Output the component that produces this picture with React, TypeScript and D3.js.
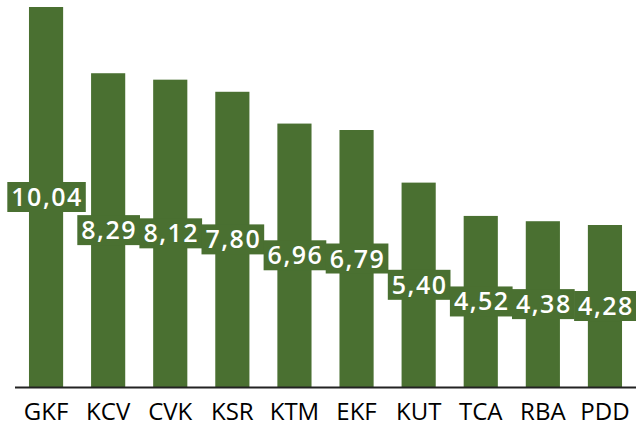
import * as d3 from "d3";
import { useEffect, useRef } from "react";

const categories = ["GKF", "KCV", "CVK", "KSR", "KTM", "EKF", "KUT", "TCA", "RBA", "PDD"];
const values = [10.04, 8.29, 8.12, 7.8, 6.96, 6.79, 5.4, 4.52, 4.38, 4.28];

const W = 636, H = 431;
const green = "#4a7031";

const App = () => {
  const ref = useRef<SVGSVGElement>(null);

  useEffect(() => {
    const svg = d3.select(ref.current);
    svg.selectAll("*").remove();

    const x = d3.scaleBand().domain(categories).range([15, 636]).paddingInner(0.45).paddingOuter(0.225);
    const y = d3.scaleLinear().domain([0, 10.04]).range([387, 7]);

    const data = categories.map((c, i) => ({ c, v: values[i] }));

    svg.selectAll("rect.bar").data(data).enter().append("rect")
      .attr("class", "bar")
      .attr("x", d => x(d.c)!)
      .attr("y", d => y(d.v))
      .attr("width", x.bandwidth())
      .attr("height", d => y(0) - y(d.v))
      .attr("fill", green);

    // axis line
    svg.append("line")
      .attr("x1", 15).attr("x2", W)
      .attr("y1", y(0) + 0.5).attr("y2", y(0) + 0.5)
      .attr("stroke", "#222").attr("stroke-width", 2);

    // value labels, centred in each bar
    const fmt = (v: number) => v.toFixed(2).replace(".", ",");
    const labels = svg.selectAll("g.lab").data(data).enter().append("g")
      .attr("class", "lab")
      .attr("transform", d => `translate(${x(d.c)! + x.bandwidth() / 2},${(y(d.v) + y(0)) / 2})`);
    const texts = labels.append("text")
      .attr("text-anchor", "middle")
      .attr("dx", 1)
      .attr("dy", "0.36em")
      .attr("font-family", "Open Sans")
      .attr("font-size", 25)
      .attr("font-weight", 600)
      .attr("letter-spacing", 1.5)
      .attr("fill", "#fff")
      .text(d => fmt(d.v));
    texts.each(function () {
      const b = (this as SVGTextElement).getBBox();
      d3.select((this as SVGTextElement).parentNode as SVGGElement).insert("rect", "text")
        .attr("x", b.x - 4).attr("y", -15)
        .attr("width", b.width + 7).attr("height", 30)
        .attr("fill", green);
    });

    // category labels
    svg.selectAll("text.cat").data(categories).enter().append("text")
      .attr("class", "cat")
      .attr("x", d => x(d)! + x.bandwidth() / 2)
      .attr("y", 420)
      .attr("text-anchor", "middle")
      .attr("font-family", "Open Sans")
      .attr("font-size", 24)
      .attr("fill", "#000")
      .text(d => d);
  }, []);

  return (
    <svg ref={ref} width={W} height={H} style={{ position: "absolute", left: 0, top: 0 }} />
  );
};

export default App;
